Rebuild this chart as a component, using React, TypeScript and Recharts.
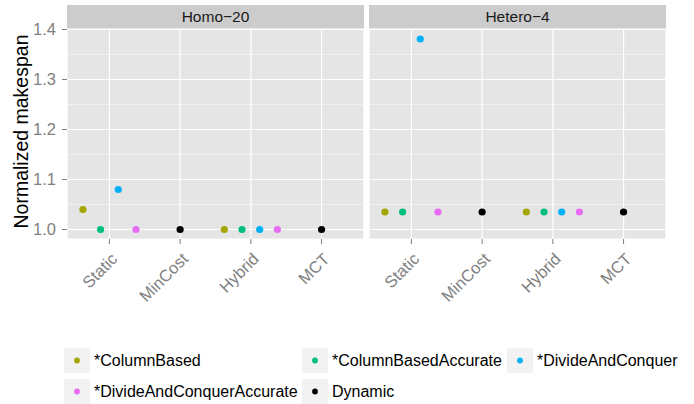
import React from "react";
import {
  CartesianGrid,
  Label,
  Scatter,
  ScatterChart,
  XAxis,
  YAxis,
} from "recharts";

const categories = ["Static", "MinCost", "Hybrid", "MCT"];
const seriesNames = [
  "*ColumnBased",
  "*ColumnBasedAccurate",
  "*DivideAndConquer",
  "*DivideAndConquerAccurate",
  "Dynamic",
];
const seriesColors = ["#A3A500", "#00BF7D", "#00B0F6", "#E76BF3", "#000000"];

// values per category (Static, MinCost, Hybrid, MCT), null = not run
const homoColumnBased = [1.04, null, 1.0, null];
const homoColumnBasedAccurate = [1.0, null, 1.0, null];
const homoDivideAndConquer = [1.08, null, 1.0, null];
const homoDivideAndConquerAccurate = [1.0, null, 1.0, null];
const homoDynamic = [null, 1.0, null, 1.0];

const heteroColumnBased = [1.035, null, 1.035, null];
const heteroColumnBasedAccurate = [1.035, null, 1.035, null];
const heteroDivideAndConquer = [1.381, null, 1.035, null];
const heteroDivideAndConquerAccurate = [1.035, null, 1.035, null];
const heteroDynamic = [null, 1.035, null, 1.035];

const yTicks = [1.0, 1.1, 1.2, 1.3, 1.4];
const yMinorTicks = [1.05, 1.15, 1.25, 1.35];

const FONT = "'Liberation Sans', Arial, Helvetica, sans-serif";
const Y_DOMAIN: [number, number] = [0.981, 1.401];
const X_DOMAIN: [number, number] = [0.4, 4.6];
const PLOT_TOP = 29;
const PLOT_HEIGHT = 210;
const X_AXIS_HEIGHT = 80;

type Pt = { x: number; y: number };

// dodge like ggplot: groups present at a category share a width of 1
function dodge(values: (number | null)[][]): Pt[][] {
  const out: Pt[][] = values.map(() => []);
  categories.forEach((_, c) => {
    const present = values
      .map((v, s) => (v[c] == null ? -1 : s))
      .filter((s) => s >= 0);
    const n = present.length;
    present.forEach((s, rank) => {
      const offset = (rank + 0.5) / n - 0.5;
      out[s].push({ x: c + 1 + offset, y: values[s][c] as number });
    });
  });
  return out;
}

function XTick(props: any) {
  const { x, y, payload } = props;
  return (
    <g transform={`translate(${x},${y})`}>
      <text
        x={9}
        y={14}
        textAnchor="end"
        transform="rotate(-45 9 14)"
        fill="#7F7F7F"
        fontSize={16.5}
        fontFamily={FONT}
      >
        {categories[payload.value - 1]}
      </text>
    </g>
  );
}

function YTitle() {
  const x = 28;
  const y = PLOT_TOP + PLOT_HEIGHT / 2 - 2.5;
  return (
    <text
      x={x}
      y={y}
      transform={`rotate(-90 ${x} ${y})`}
      textAnchor="middle"
      fill="#000"
      fontSize={19.5}
      fontFamily={FONT}
    >
      Normalized makespan
    </text>
  );
}

function Panel({
  title,
  values,
  showY,
  left,
}: {
  title: string;
  values: (number | null)[][];
  showY: boolean;
  left: number;
}) {
  const yAxisWidth = showY ? 67 : 0;
  const width = yAxisWidth + 297;
  const series = dodge(values);
  return (
    <div style={{ position: "absolute", left, top: 0, width, height: 330 }}>
      <div
        style={{
          position: "absolute",
          left: yAxisWidth,
          top: 5,
          width: 297,
          height: 24,
          background: "#CCCCCC",
          color: "#1A1A1A",
          fontFamily: FONT,
          fontSize: 15.5,
          lineHeight: "24px",
          textAlign: "center",
        }}
      >
        {title}
      </div>
      <ScatterChart
        width={width}
        height={PLOT_TOP + PLOT_HEIGHT + X_AXIS_HEIGHT}
        margin={{ top: PLOT_TOP, right: 0, bottom: 0, left: 0 }}
      >
        <CartesianGrid
          fill="#E5E5E5"
          vertical={false}
          horizontalValues={yMinorTicks}
          stroke="#F2F2F2"
          strokeWidth={0.8}
        />
        <CartesianGrid stroke="#FFFFFF" strokeWidth={1.2} />
        <XAxis
          type="number"
          dataKey="x"
          domain={X_DOMAIN}
          ticks={[1, 2, 3, 4]}
          allowDataOverflow
          axisLine={false}
          tickSize={5}
          tickMargin={2}
          tickLine={{ stroke: "#7F7F7F", strokeWidth: 1 }}
          tick={<XTick />}
          height={X_AXIS_HEIGHT}
          interval={0}
        />
        <YAxis
          type="number"
          dataKey="y"
          domain={Y_DOMAIN}
          ticks={yTicks}
          allowDataOverflow
          hide={!showY}
          width={yAxisWidth}
          axisLine={false}
          tickSize={5}
          tickMargin={6}
          tickLine={{ stroke: "#7F7F7F", strokeWidth: 1 }}
          tick={{ fill: "#7F7F7F", fontSize: 16.5, fontFamily: FONT }}
          tickFormatter={(v: number) => v.toFixed(1)}
        >
          {showY ? <Label content={<YTitle />} /> : null}
        </YAxis>
        {series.map((pts, s) => (
          <Scatter
            key={seriesNames[s]}
            name={seriesNames[s]}
            data={pts}
            isAnimationActive={false}
            shape={(p: any) => (
              <circle cx={p.cx} cy={p.cy} r={3.6} fill={seriesColors[s]} />
            )}
          />
        ))}
      </ScatterChart>
    </div>
  );
}

function LegendBox() {
  return (
    <div
      style={{
        position: "absolute",
        left: 64,
        top: 348,
        display: "grid",
        gridTemplateColumns: "238px 205px auto",
        columnGap: 0,
        rowGap: 6,
        fontFamily: FONT,
        fontSize: 16,
        color: "#000",
      }}
    >
      {seriesNames.map((name, i) => (
        <div
          key={name}
          style={{ display: "flex", alignItems: "center", height: 25 }}
        >
          <svg width={26} height={25} style={{ display: "block" }}>
            <rect width={26} height={25} fill="#F2F2F2" />
            <circle cx={13} cy={12.5} r={2.9} fill={seriesColors[i]} />
          </svg>
          <span style={{ marginLeft: 4, whiteSpace: "nowrap" }}>{name}</span>
        </div>
      ))}
    </div>
  );
}

export default function App() {
  return (
    <div
      style={{
        position: "absolute",
        left: 0,
        top: 0,
        width: 694,
        height: 404,
        background: "#fff",
        overflow: "hidden",
      }}
    >
      <Panel
        title="Homo−20"
        showY
        left={0}
        values={[
          homoColumnBased,
          homoColumnBasedAccurate,
          homoDivideAndConquer,
          homoDivideAndConquerAccurate,
          homoDynamic,
        ]}
      />
      <Panel
        title="Hetero−4"
        showY={false}
        left={369}
        values={[
          heteroColumnBased,
          heteroColumnBasedAccurate,
          heteroDivideAndConquer,
          heteroDivideAndConquerAccurate,
          heteroDynamic,
        ]}
      />
      <LegendBox />
    </div>
  );
}
